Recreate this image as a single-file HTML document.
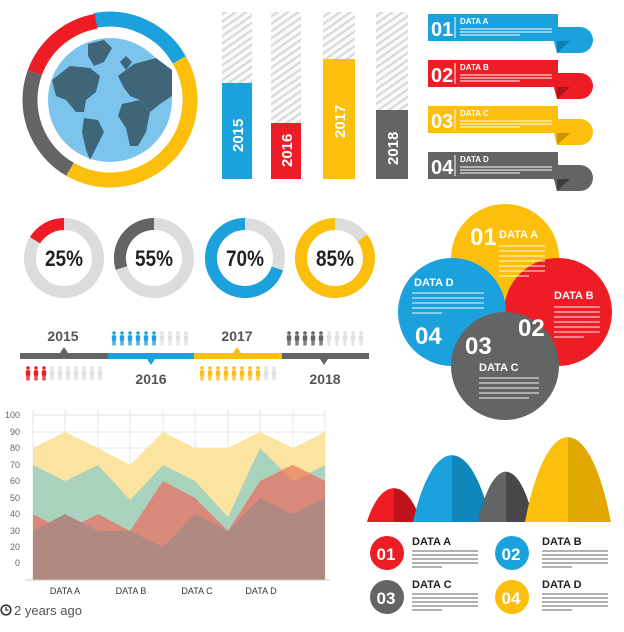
<!DOCTYPE html>
<html><head><meta charset="utf-8"><style>
html,body{margin:0;padding:0;background:#fff;}
svg{display:block;font-family:"Liberation Sans",sans-serif;}
.c{font-family:"Liberation Sans",sans-serif;font-weight:bold;}
</style></head><body>
<svg width="624" height="632" viewBox="0 0 624 632" xmlns="http://www.w3.org/2000/svg">
<defs>
<pattern id="h" width="6" height="6" patternUnits="userSpaceOnUse" patternTransform="rotate(-35)">
<rect width="6" height="6" fill="#fafafa"/><rect width="6" height="2.2" fill="#d8d8d8"/></pattern>
<g id="p"><circle cx="3" cy="2" r="1.8"/><rect x="0.8" y="4.3" width="4.4" height="5.5" rx="1"/><rect x="1.4" y="9" width="1.4" height="5.5"/><rect x="3.2" y="9" width="1.4" height="5.5"/></g>
<clipPath id="cr"><rect x="0" y="0" width="394" height="632"/></clipPath>
<clipPath id="cb"><rect x="0" y="0" width="452" height="632"/></clipPath>
<clipPath id="cg"><rect x="0" y="0" width="506" height="632"/></clipPath>
<clipPath id="cy"><rect x="0" y="0" width="568" height="632"/></clipPath>
</defs>

<!-- Globe ring -->
<g fill="none" stroke-width="15">
<path d="M95.0,20.4 A80,80 0 0 1 179.3,60.0" stroke="#1ba1dc"/>
<path d="M179.3,60.0 A80,80 0 0 1 70.0,169.3" stroke="#fbbf0c"/>
<path d="M70.0,169.3 A80,80 0 0 1 34.8,72.6" stroke="#636466"/>
<path d="M34.8,72.6 A80,80 0 0 1 96.1,21.2" stroke="#ee1c25"/>
</g>
<circle cx="110" cy="100" r="62" fill="#7cc4ec"/>
<g fill="#3e6678">
<path d="M52,80 L70,66 L90,68 L100,76 L96,92 L86,100 L84,112 L76,112 L66,100 L56,96 Z"/>
<path d="M88,44 L104,40 L112,48 L104,62 L94,66 L88,56 Z"/>
<path d="M84,118 L98,120 L104,132 L96,148 L90,160 L86,150 L82,132 Z"/>
<path d="M118,76 L134,64 L156,58 L172,70 L172,96 L160,104 L150,112 L140,100 L130,96 L124,88 Z"/>
<path d="M122,104 L140,100 L150,112 L146,132 L138,146 L130,146 L126,128 L118,116 Z"/>
<path d="M120,62 L126,56 L132,62 L126,70 Z"/>
</g>

<!-- Bars -->
<rect x="222" y="12" width="30" height="167" fill="url(#h)"/>
<rect x="271" y="12" width="30" height="167" fill="url(#h)"/>
<rect x="323" y="12" width="32" height="167" fill="url(#h)"/>
<rect x="376" y="12" width="32" height="167" fill="url(#h)"/>
<rect x="222" y="83" width="30" height="96" fill="#1ba1dc"/>
<rect x="271" y="123" width="30" height="56" fill="#ee1c25"/>
<rect x="323" y="59" width="32" height="120" fill="#fbbf0c"/>
<rect x="376" y="110" width="32" height="69" fill="#636466"/>
<g class="c" fill="#fff" font-size="15">
<text transform="translate(243,152) rotate(-90)">2015</text>
<text transform="translate(292,167) rotate(-90)">2016</text>
<text transform="translate(345,138) rotate(-90)">2017</text>
<text transform="translate(398,165) rotate(-90)">2018</text>
</g>

<!-- Ribbons -->
<g font-size="8">
<g>
<path d="M550,27 H580 A13,13 0 0 1 580,53 H557 Z" fill="#1ba1dc"/><path d="M557,41 L570,41 L557,53Z" fill="#0d7fb0"/>
<rect x="428" y="14" width="130" height="27" fill="#1ba1dc"/>
</g>
<g>
<path d="M550,73 H580 A13,13 0 0 1 580,99 H557 Z" fill="#ee1c25"/><path d="M557,87 L570,87 L557,99Z" fill="#b0121a"/>
<rect x="428" y="60" width="130" height="27" fill="#ee1c25"/>
</g>
<g>
<path d="M550,119 H580 A13,13 0 0 1 580,145 H557 Z" fill="#fbbf0c"/><path d="M557,133 L570,133 L557,145Z" fill="#c99400"/>
<rect x="428" y="106" width="130" height="27" fill="#fbbf0c"/>
</g>
<g>
<path d="M550,165 H580 A13,13 0 0 1 580,191 H557 Z" fill="#636466"/><path d="M557,179 L570,179 L557,191Z" fill="#3c3c3e"/>
<rect x="428" y="152" width="130" height="27" fill="#636466"/>
</g>
<g fill="#fff">
<text class="c" x="431" y="36" font-size="20">01</text><text class="c" x="431" y="82" font-size="20">02</text>
<text class="c" x="431" y="128" font-size="20">03</text><text class="c" x="431" y="174" font-size="20">04</text>
<text class="c" x="460" y="24" font-size="8">DATA A</text><text class="c" x="460" y="70" font-size="8">DATA B</text>
<text class="c" x="460" y="116" font-size="8">DATA C</text><text class="c" x="460" y="162" font-size="8">DATA D</text>
</g>
<g stroke="#fff" stroke-width="1"><line x1="455" y1="17" x2="455" y2="38"/><line x1="455" y1="63" x2="455" y2="84"/><line x1="455" y1="109" x2="455" y2="130"/><line x1="455" y1="155" x2="455" y2="176"/></g>
<g stroke="#fff" stroke-width="1.3" opacity="0.8">
<path d="M460,29h92M460,32h92M460,35h60M460,75h92M460,78h92M460,81h60M460,121h92M460,124h92M460,127h60M460,167h92M460,170h92M460,173h60"/>
</g>
</g>

<!-- Donuts -->
<g fill="none" stroke-width="12">
<circle cx="64" cy="258" r="34" stroke="#dcdcdc"/>
<path d="M64,224 A34,34 0 0 0 35.0,240.3" stroke="#ee1c25"/>
<circle cx="154" cy="258" r="34" stroke="#dcdcdc"/>
<path d="M154,224 A34,34 0 0 0 121.4,268.0" stroke="#636466"/>
<circle cx="245" cy="258" r="34" stroke="#dcdcdc"/>
<path d="M245,224 A34,34 0 1 0 277.3,268.5" stroke="#1ba1dc"/>
<circle cx="335" cy="258" r="34" stroke="#dcdcdc"/>
<path d="M335,224 A34,34 0 1 0 362.5,238.0" stroke="#fbbf0c"/>
</g>
<g class="c" font-size="22" fill="#222" text-anchor="middle">
<text x="64" y="266" textLength="38" lengthAdjust="spacingAndGlyphs">25%</text>
<text x="154" y="266" textLength="38" lengthAdjust="spacingAndGlyphs">55%</text>
<text x="245" y="266" textLength="38" lengthAdjust="spacingAndGlyphs">70%</text>
<text x="335" y="266" textLength="38" lengthAdjust="spacingAndGlyphs">85%</text>
</g>

<!-- Timeline -->
<rect x="20" y="353" width="88" height="6" fill="#636466"/>
<rect x="108" y="353" width="86" height="6" fill="#1ba1dc"/>
<rect x="194" y="353" width="88" height="6" fill="#fbbf0c"/>
<rect x="282" y="353" width="87" height="6" fill="#636466"/>
<path d="M60,353 L64,347 L68,353Z" fill="#636466"/>
<path d="M147,359 L151,365 L155,359Z" fill="#1ba1dc"/>
<path d="M233,353 L237,347 L241,353Z" fill="#fbbf0c"/>
<path d="M320,359 L324,365 L328,359Z" fill="#636466"/>
<g class="c" font-size="14" fill="#555" text-anchor="middle">
<text x="63" y="341">2015</text><text x="151" y="384">2016</text>
<text x="237" y="341">2017</text><text x="325" y="384">2018</text>
</g>
<g fill="#ee1c25"><use href="#p" x="25" y="366"/><use href="#p" x="33" y="366"/><use href="#p" x="41" y="366"/></g>
<g fill="#e0e0e0"><use href="#p" x="49" y="366"/><use href="#p" x="57" y="366"/><use href="#p" x="65" y="366"/><use href="#p" x="73" y="366"/><use href="#p" x="81" y="366"/><use href="#p" x="89" y="366"/><use href="#p" x="97" y="366"/></g>
<g fill="#1ba1dc"><use href="#p" x="111" y="331"/><use href="#p" x="119" y="331"/><use href="#p" x="127" y="331"/><use href="#p" x="135" y="331"/><use href="#p" x="143" y="331"/><use href="#p" x="151" y="331"/></g>
<g fill="#e0e0e0"><use href="#p" x="159" y="331"/><use href="#p" x="167" y="331"/><use href="#p" x="175" y="331"/><use href="#p" x="183" y="331"/></g>
<g fill="#fbbf0c"><use href="#p" x="199" y="366"/><use href="#p" x="207" y="366"/><use href="#p" x="215" y="366"/><use href="#p" x="223" y="366"/><use href="#p" x="231" y="366"/><use href="#p" x="239" y="366"/><use href="#p" x="247" y="366"/><use href="#p" x="255" y="366"/></g>
<g fill="#e0e0e0"><use href="#p" x="263" y="366"/><use href="#p" x="271" y="366"/></g>
<g fill="#636466"><use href="#p" x="286" y="331"/><use href="#p" x="294" y="331"/><use href="#p" x="302" y="331"/><use href="#p" x="310" y="331"/><use href="#p" x="318" y="331"/></g>
<g fill="#e0e0e0"><use href="#p" x="326" y="331"/><use href="#p" x="334" y="331"/><use href="#p" x="342" y="331"/><use href="#p" x="350" y="331"/><use href="#p" x="358" y="331"/></g>

<!-- Venn -->
<circle cx="505" cy="258" r="54" fill="#fbbf0c"/>
<circle cx="558" cy="312" r="54" fill="#ee1c25"/>
<circle cx="452" cy="312" r="54" fill="#1ba1dc"/>
<circle cx="505" cy="366" r="54" fill="#636466"/>
<g class="c" fill="#fff">
<text x="470" y="245" font-size="24">01</text><text x="499" y="238" font-size="11">DATA A</text>
<text x="518" y="336" font-size="24">02</text><text x="554" y="299" font-size="11">DATA B</text>
<text x="465" y="354" font-size="24">03</text><text x="479" y="371" font-size="11">DATA C</text>
<text x="415" y="344" font-size="24">04</text><text x="414" y="286" font-size="11">DATA D</text>
</g>
<g stroke="#fff" stroke-width="1.3" opacity="0.75">
<path d="M499,246h46M499,251h46M499,256h46M499,261h46M499,266h46M499,271h46M499,276h30"/>
<path d="M554,307h46M554,312h46M554,317h46M554,322h46M554,327h46M554,332h46M554,337h30"/>
<path d="M479,378h60M479,383h60M479,388h60M479,393h60M479,398h50"/>
<path d="M412,293h72M412,298h72M412,303h72M412,308h72M412,313h30"/>
</g>

<!-- Area chart -->
<g stroke="#e6e6e6" stroke-width="1">
<path d="M33,415H325M33,432H325M33,448H325M33,465H325M33,481H325M33,498H325M33,514H325M33,531H325M33,547H325M33,563H325"/>
<path d="M33,410V580M65,410V580M98,410V580M130,410V580M163,410V580M195,410V580M228,410V580M260,410V580M293,410V580M325,410V580"/>
</g>
<polygon fill="#fbe3a0" points="33,448 65,432 98,448 130,465 163,432 195,448 228,448 260,432 293,448 325,432 325,580 33,580"/>
<polygon fill="#a9d3bd" points="33,465 65,481 98,465 130,500 163,465 195,481 228,517 260,448 293,481 325,465 325,580 33,580"/>
<polygon fill="#d9897a" points="33,514 65,531 98,514 130,531 163,481 195,498 228,531 260,481 293,465 325,481 325,580 33,580"/>
<polygon fill="#f59a6a" opacity="0.7" points="280,470 293,465 310,474 293,481"/>
<polygon fill="#b08a82" points="33,531 65,514 98,531 130,531 163,547 195,514 228,531 260,498 293,514 325,498 325,580 33,580"/>
<line x1="25" y1="580" x2="330" y2="580" stroke="#ccc"/>
<g font-size="9" fill="#666" text-anchor="end">
<text x="20" y="418">100</text><text x="20" y="435">90</text><text x="20" y="451">80</text><text x="20" y="468">70</text><text x="20" y="484">60</text><text x="20" y="501">50</text><text x="20" y="517">40</text><text x="20" y="534">30</text><text x="20" y="550">20</text><text x="20" y="566">0</text>
</g>
<g font-size="9" fill="#333" text-anchor="middle">
<text x="65" y="594">DATA A</text><text x="131" y="594">DATA B</text><text x="197" y="594">DATA C</text><text x="261" y="594">DATA D</text>
</g>
<circle cx="6" cy="610" r="4.8" fill="none" stroke="#333" stroke-width="1.6"/>
<path d="M6,607V610H8.5" stroke="#333" stroke-width="1.3" fill="none"/>
<text x="14" y="615" font-size="13" fill="#555">2 years ago</text>

<!-- Mountains (bell shapes) -->
<path d="M367,522 C381,477 407,477 421,522Z" fill="#c0121a"/>
<path d="M367,522 C381,477 407,477 421,522Z" fill="#ee1c25" clip-path="url(#cr)"/>
<path d="M413,522 C433,433 471,433 491,522Z" fill="#0f86bc"/>
<path d="M413,522 C433,433 471,433 491,522Z" fill="#1ba1dc" clip-path="url(#cb)"/>
<path d="M478,522 C493,455 519,455 534,522Z" fill="#47474a"/>
<path d="M478,522 C493,455 519,455 534,522Z" fill="#636466" clip-path="url(#cg)"/>
<path d="M525,522 C547,409 589,409 611,522Z" fill="#e0a800"/>
<path d="M525,522 C547,409 589,409 611,522Z" fill="#fbbf0c" clip-path="url(#cy)"/>

<!-- Badges -->
<circle cx="387" cy="553" r="17" fill="#ee1c25"/>
<circle cx="512" cy="553" r="17" fill="#1ba1dc"/>
<circle cx="387" cy="597" r="17" fill="#636466"/>
<circle cx="512" cy="597" r="17" fill="#fbbf0c"/>
<g class="c" fill="#fff" font-size="17" text-anchor="middle">
<text x="386" y="560">01</text><text x="511" y="560">02</text><text x="386" y="604">03</text><text x="511" y="604">04</text>
</g>
<g class="c" fill="#222" font-size="11">
<text x="412" y="545">DATA A</text><text x="542" y="545">DATA B</text>
<text x="412" y="588">DATA C</text><text x="542" y="588">DATA D</text>
</g>
<g stroke="#666" stroke-width="1">
<path d="M412,551h66M412,555h66M412,559h66M412,563h66M412,567h30"/>
<path d="M542,551h66M542,555h66M542,559h66M542,563h66M542,567h30"/>
<path d="M412,594h66M412,598h66M412,602h66M412,606h66M412,610h30"/>
<path d="M542,594h66M542,598h66M542,602h66M542,606h66M542,610h30"/>
</g>
</svg>
</body></html>
